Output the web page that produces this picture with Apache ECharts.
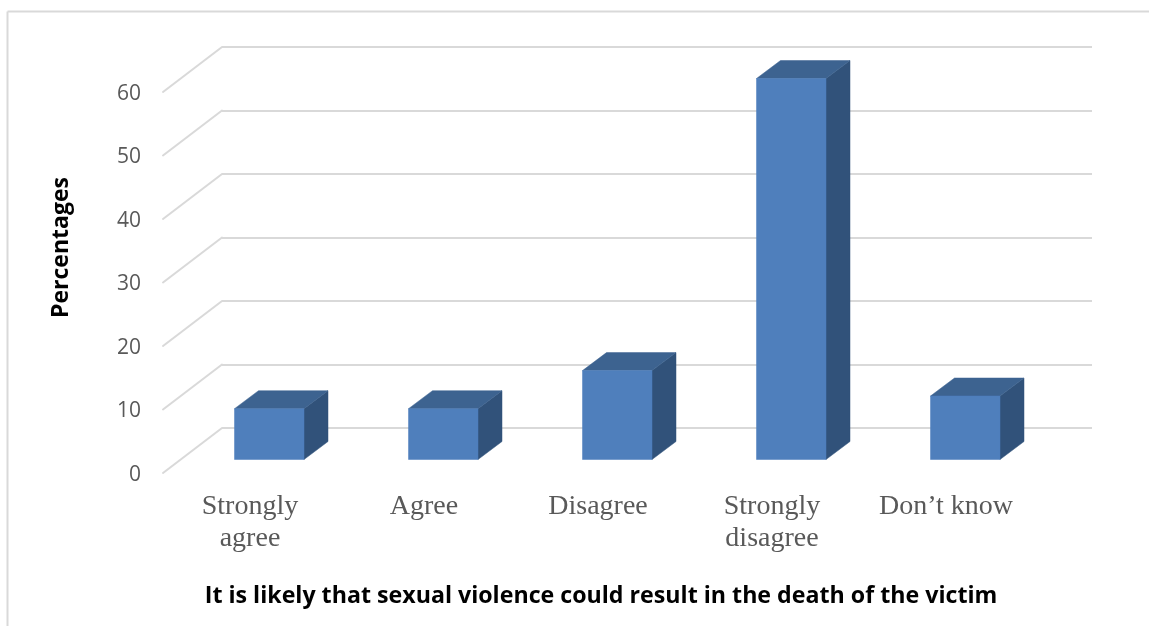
<!DOCTYPE html>
<html>
<head>
<meta charset="utf-8">
<style>html,body{margin:0;padding:0;background:#fff}#chart{width:1149px;height:626px}</style>
<script src="https://cdn.jsdelivr.net/npm/echarts@6/dist/echarts.min.js"></script>
</head>
<body>
<div id="chart"></div>
<script>
// Survey responses, in percent
const categories = ['Strongly\nagree', 'Agree', 'Disagree', 'Strongly\ndisagree', 'Don\u2019t know'];
const percentages = [8, 8, 14, 60, 10];
const yTicks = [0, 10, 20, 30, 40, 50, 60];
const xTitle = 'It is likely that sexual violence could result in the death of the victim';
const yTitle = 'Percentages';

// Oblique projection of the chart box: floor depth and bar depth, in pixels
const WALL_DX = 59, WALL_DY = -45;
const BAR_DX = 24, BAR_DY = -18;
const BAR_SHIFT_X = 19.25, BAR_SHIFT_Y = -13.5, BAR_WIDTH = 69.5;

const chart = echarts.init(document.getElementById('chart'), null, {renderer: 'canvas'});

function poly(points, fill) {
  return {type: 'polygon', shape: {points}, style: {fill, stroke: fill, lineWidth: 0.5}};
}

chart.setOption({
  animation: false,
  backgroundColor: '#ffffff',
  grid: [
    // back wall, holds the horizontal rules
    {left: 222, top: 47, width: 870, height: 381, outerBoundsMode: 'none'},
    // front edge of the floor, holds the labels and the marks
    {left: 163, top: 92, width: 870, height: 381, outerBoundsMode: 'none'}
  ],
  xAxis: [
    {gridIndex: 0, type: 'category', data: categories, show: false},
    {
      gridIndex: 1, type: 'category', data: categories,
      axisLine: {show: false}, axisTick: {show: false},
      axisLabel: {
        interval: 0, margin: 18, color: '#595959', lineHeight: 32,
        fontFamily: 'Liberation Serif', fontSize: 28
      },
      name: xTitle, nameLocation: 'middle', nameGap: 112, nameMoveOverlap: false,
      nameTextStyle: {
        color: '#000', fontWeight: 'bold', fontFamily: 'Open Sans', fontSize: 23.2,
        padding: [0, 0, 0, 6]
      }
    }
  ],
  yAxis: [
    {
      gridIndex: 0, type: 'value', min: 0, max: 60, interval: 10,
      axisLine: {show: false}, axisTick: {show: false}, axisLabel: {show: false},
      splitLine: {lineStyle: {color: '#d9d9d9', width: 2}}
    },
    {
      gridIndex: 1, type: 'value', min: 0, max: 60, interval: 10,
      axisLine: {show: false}, axisTick: {show: false}, splitLine: {show: false},
      axisLabel: {
        margin: 22,
        formatter: v => `{t|${v}}`,
        rich: {t: {color: '#595959', fontFamily: 'Open Sans', fontSize: 21, padding: [4, 0, 0, 0]}}
      },
      name: yTitle, nameLocation: 'middle', nameGap: 90, nameMoveOverlap: false,
      nameTextStyle: {
        color: '#000', fontWeight: 'bold', fontFamily: 'Open Sans', fontSize: 23,
        padding: [0, 0, 0, 70]
      }
    }
  ],
  graphic: [
    // frame of the chart area, only its top and left edges are in view
    {type: 'line', shape: {x1: 7.5, y1: 626, x2: 7.5, y2: 11.5}, style: {stroke: '#d9d9d9', lineWidth: 2}},
    {type: 'line', shape: {x1: 7.5, y1: 11.5, x2: 1149, y2: 11.5}, style: {stroke: '#d9d9d9', lineWidth: 2}}
  ],
  series: [
    {
      // side-wall rules running from the front edge to the back wall
      type: 'custom', xAxisIndex: 1, yAxisIndex: 1, z: 1, silent: true,
      data: yTicks.map(t => [0, t]),
      encode: {x: 0, y: 1},
      renderItem(params, api) {
        const p = api.coord([api.value(0), api.value(1)]);
        const x = p[0] - api.size([1, 0])[0] / 2;
        return {
          type: 'line',
          shape: {x1: x, y1: p[1], x2: x + WALL_DX, y2: p[1] + WALL_DY},
          style: {stroke: '#d9d9d9', lineWidth: 2, lineCap: 'round'}
        };
      }
    },
    {
      // box-shaped bars: front, top and side faces
      type: 'custom', xAxisIndex: 1, yAxisIndex: 1, z: 2, silent: true,
      data: percentages.map((v, i) => [i, v]),
      encode: {x: 0, y: 1},
      renderItem(params, api) {
        const top = api.coord([api.value(0), api.value(1)]);
        const base = api.coord([api.value(0), 0]);
        const x0 = top[0] + BAR_SHIFT_X - BAR_WIDTH / 2;
        const x1 = x0 + BAR_WIDTH;
        const y0 = top[1] + BAR_SHIFT_Y;
        const y1 = base[1] + BAR_SHIFT_Y;
        return {
          type: 'group',
          children: [
            poly([[x1, y0], [x1 + BAR_DX, y0 + BAR_DY], [x1 + BAR_DX, y1 + BAR_DY], [x1, y1]], '#31527a'),
            poly([[x0, y0], [x0 + BAR_DX, y0 + BAR_DY], [x1 + BAR_DX, y0 + BAR_DY], [x1, y0]], '#3d6390'),
            poly([[x0, y0], [x1, y0], [x1, y1], [x0, y1]], '#4f7fbc')
          ]
        };
      }
    }
  ]
});
</script>
</body>
</html>
